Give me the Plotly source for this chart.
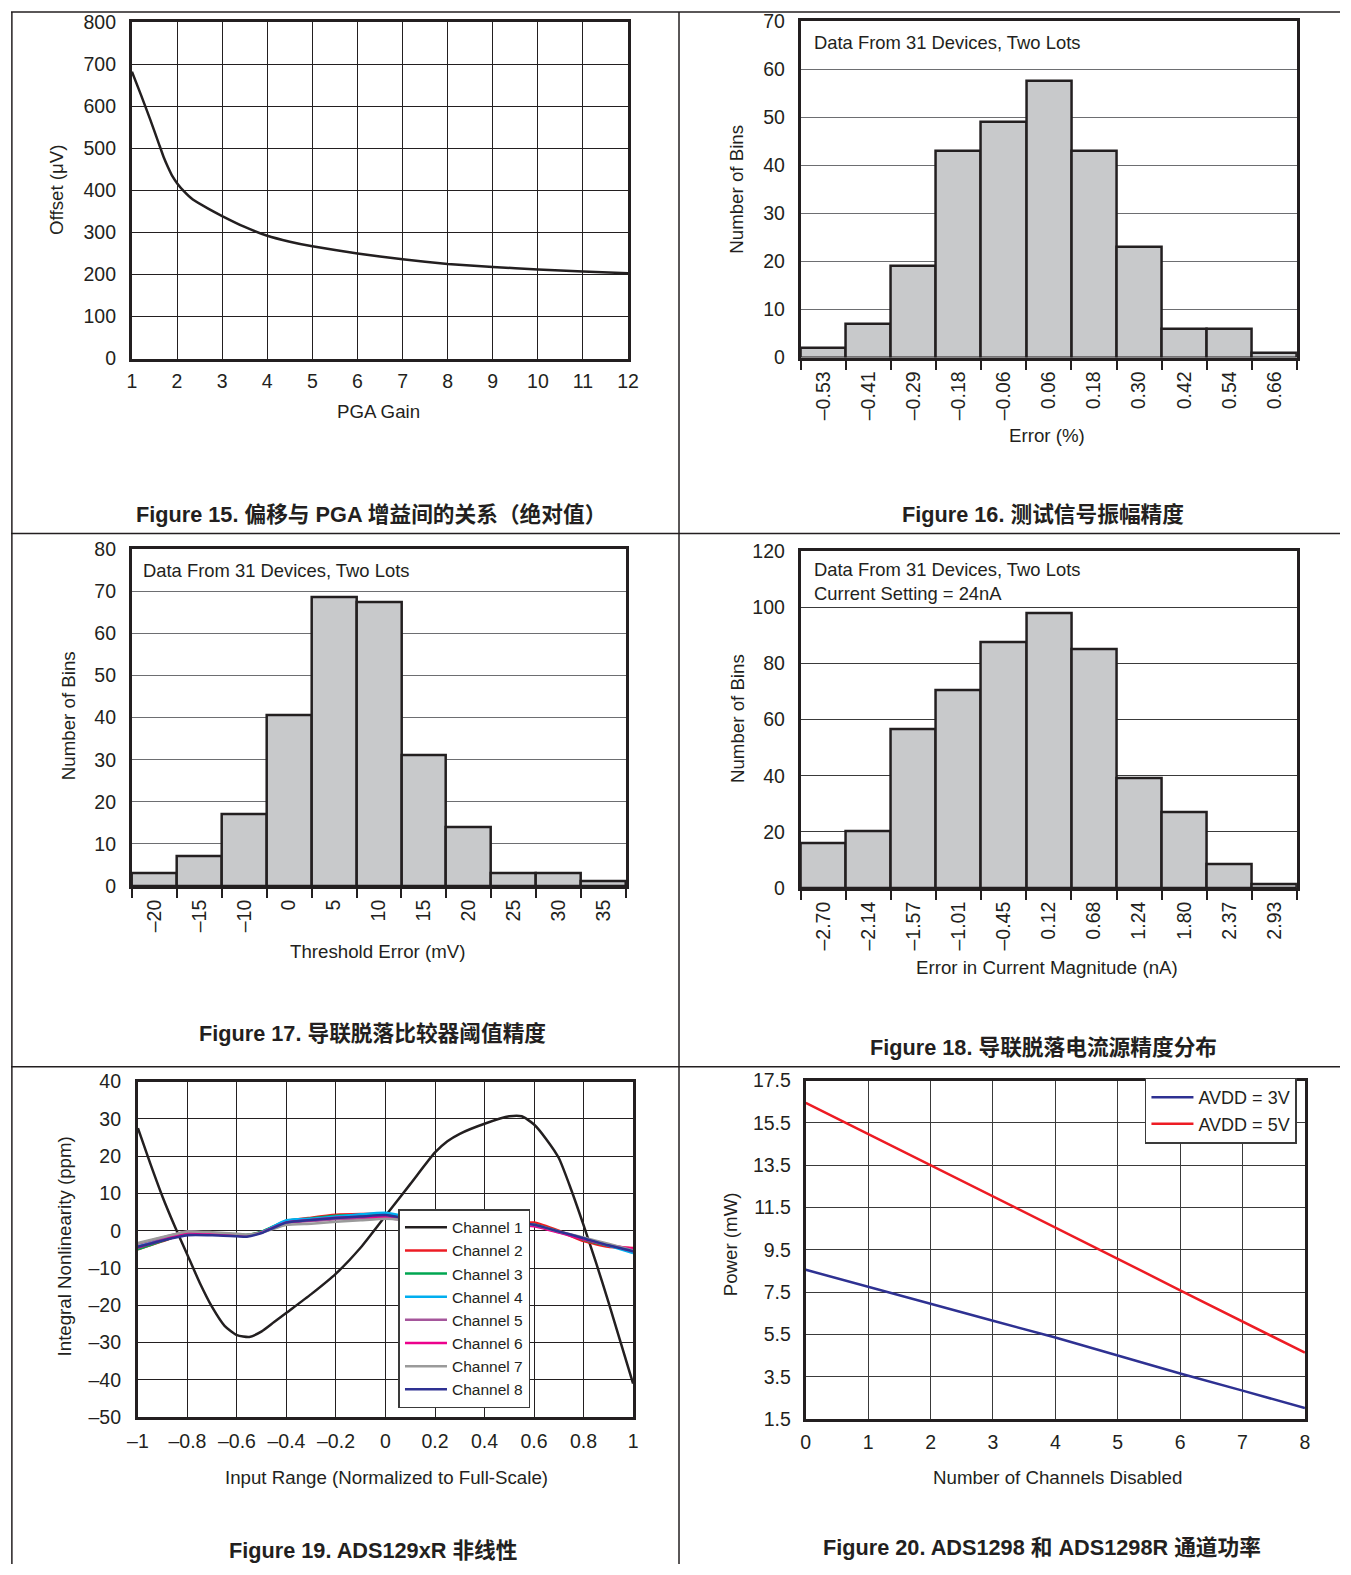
import plotly.graph_objects as go

# The photograph shows the 1351x1575 window inside a thin white frame (about 10 px,
# scale about 0.985). Positions below are given in picture pixels and mapped to
# window pixels through that frame.
W, H = 1351, 1575
SX, SY = 0.9854, 0.9874
OX, OY = 9.85, 9.9
INK = "#231f20"
FONT = "Liberation Sans, Arial, Noto Sans CJK SC, sans-serif"


def wx(x):
    return (x - OX) / SX


def wy(y):
    return (y - OY) / SY


def px(x):
    return wx(x) / W


def py(y):
    return 1 - wy(y) / H


# ---------------- data ----------------
# Figure 15: offset vs PGA gain
f15_gain = [1, 1.2, 1.4, 1.6, 1.7, 1.8, 1.9, 2.0, 2.15, 2.35, 2.7, 3, 3.5, 4, 4.5, 5, 6, 7, 8, 9, 10, 11, 12]
f15_offset = [682, 627, 570, 510, 480, 455, 433, 417, 398, 378, 356, 339, 313, 292, 278, 267, 250, 236, 225, 218, 212, 207, 203]

# Figure 16: test signal amplitude accuracy
f16_labels = ["–0.53", "–0.41", "–0.29", "–0.18", "–0.06", "0.06", "0.18", "0.30", "0.42", "0.54", "0.66"]
f16_counts = [2, 7, 19, 43, 49, 57.5, 43, 23, 6, 6, 1]

# Figure 17: lead-off comparator threshold accuracy
f17_labels = ["–20", "–15", "–10", "0", "5", "10", "15", "20", "25", "30", "35"]
f17_counts = [3, 7, 17, 40.5, 68.5, 67.5, 31, 14, 3, 3, 1]

# Figure 18: lead-off current source accuracy
f18_labels = ["–2.70", "–2.14", "–1.57", "–1.01", "–0.45", "0.12", "0.68", "1.24", "1.80", "2.37", "2.93"]
f18_counts = [16, 20, 56.5, 70.5, 87.5, 98, 85, 39, 27, 8.5, 1.2]

# Figure 19: INL
f19_x1 = [-1, -0.95, -0.9, -0.85, -0.8, -0.75, -0.7, -0.65, -0.6, -0.55, -0.5, -0.45, -0.4, -0.3,
          -0.2, -0.1, 0, 0.1, 0.2, 0.25, 0.3, 0.4, 0.5, 0.55, 0.6, 0.65, 0.7, 0.75, 0.8, 0.85, 0.9, 1.0]
f19_ch1 = [27.5, 18, 9, 1, -6.5, -14, -20.5, -25.5, -28, -28.5, -27, -24.5, -22, -17,
           -11.5, -4.5, 4, 12.5, 21, 24, 26, 28.7, 30.7, 30.7, 28.5, 24.5, 19.5, 11, 1.5, -8.5, -19, -41]
f19_x = [-1, -0.9, -0.8, -0.7, -0.6, -0.56, -0.5, -0.4, -0.3, -0.2, -0.1, 0, 0.1, 0.2, 0.3, 0.4,
         0.5, 0.6, 0.7, 0.8, 0.9, 1.0]
f19_ch2 = [-5.0, -2.8, -0.6, -0.9, -1.1, -1.2, -0.3, 2.5, 3.5, 4.3, 4.5, 4.5, 3.5, 2.5, 2.0, 2.0, 2.0, 2.2, 0.0, -2.8, -4.3, -4.6]
f19_ch3 = [-5.0, -2.7, -0.6, -0.8, -1.0, -1.1, -0.2, 2.7, 3.3, 4.0, 4.2, 4.2, 3.3, 2.6, 2.2, 2.1, 1.9, 1.7, -0.2, -2.4, -4.0, -5.5]
f19_ch4 = [-4.2, -2.3, -0.4, -0.7, -1.2, -1.3, -0.4, 2.8, 3.2, 3.8, 4.4, 4.8, 3.6, 3.0, 2.8, 2.8, 2.5, 1.5, -0.4, -2.1, -4.0, -6.0]
f19_ch5 = [-3.5, -1.8, -0.2, -0.6, -1.0, -1.2, -0.5, 2.0, 2.6, 3.1, 3.3, 3.4, 2.6, 1.9, 1.8, 2.0, 1.8, 1.4, -0.3, -2.0, -3.8, -5.5]
f19_ch6 = [-4.5, -2.5, -0.5, -0.8, -1.1, -1.3, -0.4, 2.2, 2.9, 3.5, 3.7, 3.6, 2.7, 1.7, 1.6, 1.9, 1.6, 1.2, -0.5, -2.3, -3.8, -4.8]
f19_ch7 = [-3.3, -1.7, -0.2, -0.4, -0.8, -1.0, -0.5, 1.6, 1.9, 2.4, 2.8, 3.2, 2.8, 2.4, 2.4, 2.3, 2.0, 1.6, -0.2, -1.8, -3.5, -5.3]
f19_ch8 = [-4.3, -2.6, -1.2, -1.2, -1.5, -1.6, -0.6, 2.2, 2.9, 3.4, 3.8, 4.2, 3.1, 2.5, 2.2, 2.1, 2.0, 1.6, -0.2, -2.0, -3.9, -5.5]

# Figure 20: channel power
f20_x = [0, 1, 2, 3, 4, 5, 6, 7, 8]
f20_3v = [8.56, 7.75, 6.96, 6.15, 5.36, 4.5, 3.66, 2.85, 2.02]
f20_5v = [16.45, 14.98, 13.52, 12.05, 10.57, 9.08, 7.59, 6.1, 4.64]

# ---------------- figure ----------------
fig = go.Figure()

tickfont = dict(family=FONT, size=19.5, color=INK)


def frame_axis(x0, x1, anchor, **kw):
    d = dict(domain=[px(x0), px(x1)], anchor=anchor, showline=True, mirror=True,
             linewidth=3, linecolor=INK, zeroline=False, ticks="", tickfont=tickfont,
             ticklabelstandoff=3)
    d.update(kw)
    return d


def frame_yaxis(y0, y1, anchor, **kw):
    d = dict(domain=[py(y1), py(y0)], anchor=anchor, showline=True, mirror=True,
             linewidth=3, linecolor=INK, zeroline=False, ticks="", tickfont=tickfont,
             ticklabelstandoff=9)
    d.update(kw)
    return d


# Panel 1
fig.add_trace(go.Scatter(x=f15_gain, y=f15_offset, mode="lines",
                         line=dict(color=INK, width=2.5, shape="spline", smoothing=0.4),
                         xaxis="x", yaxis="y", showlegend=False))
# Panels 2-4 histograms
for ax_id, counts in (("2", f16_counts), ("3", f17_counts), ("4", f18_counts)):
    fig.add_trace(go.Bar(x=list(range(len(counts))), y=counts, width=1,
                         marker=dict(color="#c8c9cb", line=dict(color=INK, width=2.5)),
                         xaxis="x" + ax_id, yaxis="y" + ax_id, showlegend=False))

# Panel 5
ch_colors = ["#231f20", "#ed1c24", "#00a651", "#00aeef", "#a5569b", "#ec008c", "#9a9a9a", "#2e3192"]
ch_data = [f19_ch2, f19_ch3, f19_ch4, f19_ch5, f19_ch6, f19_ch7, f19_ch8]
fig.add_trace(go.Scatter(x=f19_x1, y=f19_ch1, mode="lines", name="Channel 1",
                         line=dict(color=ch_colors[0], width=2.5, shape="spline", smoothing=0.6),
                         xaxis="x5", yaxis="y5", legend="legend"))
for i, ys in enumerate(ch_data):
    fig.add_trace(go.Scatter(x=f19_x, y=ys, mode="lines", name="Channel %d" % (i + 2),
                             line=dict(color=ch_colors[i + 1], width=2.5, shape="spline", smoothing=0.5),
                             xaxis="x5", yaxis="y5", legend="legend"))

# Panel 6
fig.add_trace(go.Scatter(x=f20_x, y=f20_3v, mode="lines", name="AVDD = 3V", line=dict(color="#2e3192", width=2.5),
                         xaxis="x6", yaxis="y6", legend="legend2"))
fig.add_trace(go.Scatter(x=f20_x, y=f20_5v, mode="lines", name="AVDD = 5V", line=dict(color="#ed1c24", width=2.5),
                         xaxis="x6", yaxis="y6", legend="legend2"))

hist_minor = dict(ticks="outside", tick0=0.5, dtick=1, ticklen=9, tickwidth=1.5, tickcolor=INK, showgrid=False)
HGRID = "#6d6e71"

layout_axes = dict(
    xaxis=frame_axis(131, 628, "y", range=[1, 12], tickvals=list(range(1, 13)),
                     showgrid=True, gridcolor=INK, gridwidth=1),
    yaxis=frame_yaxis(21, 358, "x", range=[0, 800], dtick=100, showgrid=True, gridcolor=INK, gridwidth=1),
    xaxis2=frame_axis(801, 1298, "y2", range=[-0.5, 10.5], tickvals=list(range(11)), ticktext=f16_labels,
                      tickangle=-90, showgrid=False, minor=hist_minor),
    yaxis2=frame_yaxis(20, 357, "x2", range=[0, 70], dtick=10, showgrid=True, gridcolor=HGRID, gridwidth=1.2),
    xaxis3=frame_axis(131, 626, "y3", range=[-0.5, 10.5], tickvals=list(range(11)), ticktext=f17_labels,
                      tickangle=-90, showgrid=False, minor=hist_minor),
    yaxis3=frame_yaxis(549, 886, "x3", range=[0, 80], dtick=10, showgrid=True, gridcolor=HGRID, gridwidth=1.2),
    xaxis4=frame_axis(801, 1298, "y4", range=[-0.5, 10.5], tickvals=list(range(11)), ticktext=f18_labels,
                      tickangle=-90, showgrid=False, minor=hist_minor),
    yaxis4=frame_yaxis(551, 888, "x4", range=[0, 120], dtick=20, showgrid=True, gridcolor="#3a3a3a", gridwidth=1),
    xaxis5=frame_axis(137, 633, "y5", range=[-1, 1],
                      tickvals=[-1, -0.8, -0.6, -0.4, -0.2, 0, 0.2, 0.4, 0.6, 0.8, 1],
                      ticktext=["–1", "–0.8", "–0.6", "–0.4", "–0.2", "0", "0.2", "0.4", "0.6", "0.8", "1"],
                      showgrid=True, gridcolor=INK, gridwidth=1, ticklabelstandoff=4),
    yaxis5=frame_yaxis(1082, 1418, "x5", range=[-50, 40],
                       tickvals=[-50, -40, -30, -20, -10, 0, 10, 20, 30, 40],
                       ticktext=["–50", "–40", "–30", "–20", "–10", "0", "10", "20", "30", "40"],
                       showgrid=True, gridcolor=INK, gridwidth=1, ticklabelstandoff=10),
    xaxis6=frame_axis(806, 1306, "y6", range=[0, 8], dtick=1, showgrid=True, gridcolor="#3a3a3a", gridwidth=1),
    yaxis6=frame_yaxis(1081, 1420, "x6", range=[1.5, 17.5],
                       tickvals=[1.5, 3.5, 5.5, 7.5, 9.5, 11.5, 13.5, 15.5, 17.5],
                       ticktext=["1.5", "3.5", "5.5", "7.5", "9.5", "11.5", "13.5", "15.5", "17.5"],
                       showgrid=True, gridcolor="#3a3a3a", gridwidth=1, ticklabelstandoff=8),
)

annotations = []


def text(x, y, s, size=18.7, bold=False, angle=0, xanchor="center", yanchor="middle", align="center"):
    annotations.append(dict(x=px(x), y=py(y), xref="paper", yref="paper", text=s, showarrow=False,
                            textangle=angle, xanchor=xanchor, yanchor=yanchor, align=align,
                            font=dict(family=FONT, size=size, color=INK,
                                      weight="bold" if bold else "normal")))


# axis titles
text(56, 189, "Offset (μV)", angle=-90)
text(378, 411, "PGA Gain")
text(737, 188, "Number of Bins", angle=-90)
text(1048, 435, "Error (%)")
text(67, 716, "Number of Bins", angle=-90)
text(377, 952, "Threshold Error (mV)")
text(737, 718, "Number of Bins", angle=-90)
text(1048, 968, "Error in Current Magnitude (nA)")
text(63, 1247, "Integral Nonlinearity (ppm)", angle=-90)
text(386, 1478, "Input Range (Normalized to Full-Scale)")
text(730, 1245, "Power (mW)", angle=-90)
text(1058, 1478, "Number of Channels Disabled")

# in-plot notes
text(812, 41, "Data From 31 Devices, Two Lots", size=18.4, xanchor="left")
text(140, 570, "Data From 31 Devices, Two Lots", size=18.4, xanchor="left")
text(812, 581, "Data From 31 Devices, Two Lots<br>Current Setting = 24nA", size=18.4, xanchor="left", align="left")

# captions
CAP = 21.7
text(370, 514, "Figure 15. 偏移与 PGA 增益间的关系（绝对值）", size=CAP, bold=True)
text(1044, 514, "Figure 16. 测试信号振幅精度", size=CAP, bold=True)
text(372, 1034, "Figure 17. 导联脱落比较器阈值精度", size=CAP, bold=True)
text(1044, 1048, "Figure 18. 导联脱落电流源精度分布", size=CAP, bold=True)
text(372, 1552, "Figure 19. ADS129xR 非线性", size=CAP, bold=True)
text(1043, 1549, "Figure 20. ADS1298 和 ADS1298R 通道功率", size=CAP, bold=True)

# page table borders (kept just inside the window where the picture frame would hide them)
shapes = []
top_line = 1 - 0.9 / H
for yy in (None, 533, 1067):
    yv = top_line if yy is None else py(yy)
    shapes.append(dict(type="line", xref="paper", yref="paper", x0=0, x1=1, y0=yv, y1=yv,
                       line=dict(color=INK, width=1.5)))
for xx in (None, 679):
    xv = 0.9 / W if xx is None else px(xx)
    shapes.append(dict(type="line", xref="paper", yref="paper", x0=xv, x1=xv, y0=top_line, y1=0,
                       line=dict(color=INK, width=1.5)))

fig.update_layout(
    width=W, height=H, margin=dict(l=0, r=0, t=0, b=0),
    paper_bgcolor="white", plot_bgcolor="white",
    font=dict(family=FONT, size=18, color=INK),
    bargap=0,
    annotations=annotations, shapes=shapes,
    legend=dict(x=px(398), y=py(1409), xanchor="left", yanchor="bottom", bgcolor="white",
                bordercolor="#3a3a3a", borderwidth=1.5, font=dict(family=FONT, size=15.5, color=INK),
                tracegroupgap=0, itemwidth=42, traceorder="normal"),
    legend2=dict(x=px(1298), y=py(1078), xanchor="right", yanchor="top", bgcolor="white",
                 bordercolor="#3a3a3a", borderwidth=1.5, font=dict(family=FONT, size=18, color=INK),
                 tracegroupgap=0, itemwidth=42, traceorder="normal"),
    **layout_axes,
)

fig.write_html("out.html", config={"displayModeBar": False},
               post_script="document.body.style.margin='0';document.body.style.overflow='hidden';")
